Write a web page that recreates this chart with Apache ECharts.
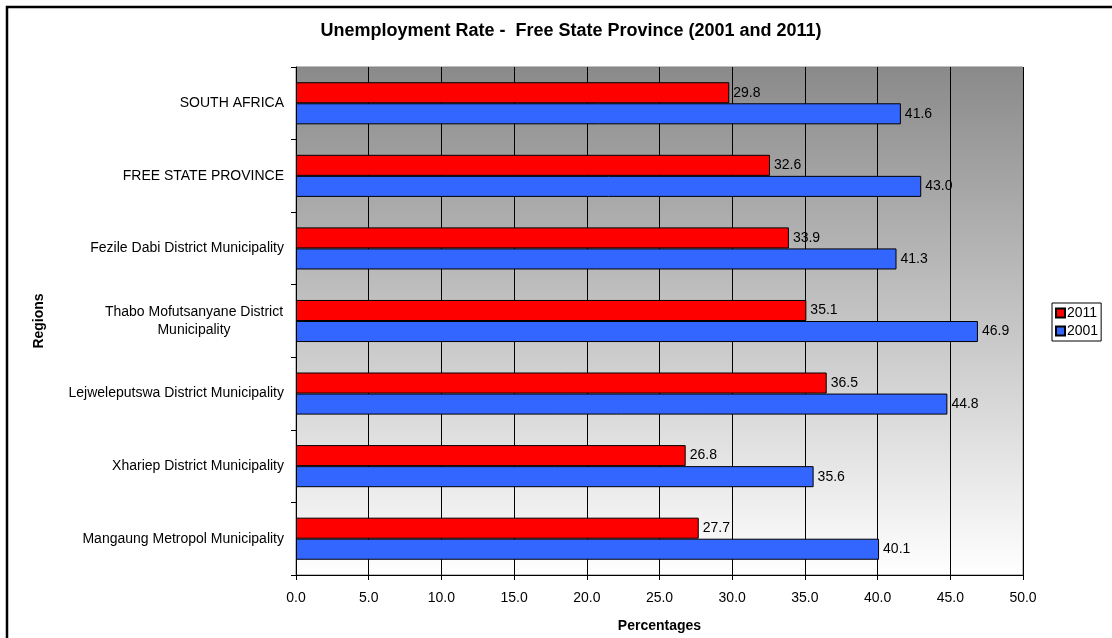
<!DOCTYPE html>
<html>
<head>
<meta charset="utf-8">
<script src="https://cdn.jsdelivr.net/npm/echarts@6/dist/echarts.min.js"></script>
<style>html,body{margin:0;padding:0;background:#fff;}#c{width:1112px;height:638px;}</style>
</head>
<body>
<div id="c"></div>
<script>
var categories = [
  'SOUTH AFRICA',
  'FREE STATE PROVINCE',
  'Fezile Dabi District Municipality',
  'Thabo Mofutsanyane District Municipality',
  'Lejweleputswa District Municipality',
  'Xhariep District Municipality',
  'Mangaung Metropol Municipality'
];
var values2011 = [29.8, 32.6, 33.9, 35.1, 36.5, 26.8, 27.7];
var values2001 = [41.6, 43.0, 41.3, 46.9, 44.8, 35.6, 40.1];
var seriesNames = ['2011', '2001'];
var xTicks = {min: 0, max: 50, interval: 5};

var FONT = '"Liberation Sans", Arial, sans-serif';
var chart = echarts.init(document.getElementById('c'));
var labelStyle = {
  show: true, position: 'right', distance: 4, color: '#000',
  fontSize: 14, fontFamily: FONT,
  formatter: function (p) { return p.value.toFixed(1); }
};
chart.setOption({
  animation: false,
  backgroundColor: '#fff',
  textStyle: {fontFamily: FONT},
  title: {
    text: 'Unemployment Rate -  Free State Province (2001 and 2011)',
    left: 566, top: 17, textAlign: 'center',
    textStyle: {fontSize: 18, fontWeight: 'bold', color: '#000', fontFamily: FONT}
  },
  graphic: [{
    type: 'rect', z: -10, silent: true,
    shape: {x: 7, y: 7, width: 1200, height: 700},
    style: {fill: null, stroke: '#000', lineWidth: 2.5}
  }],
  legend: {
    orient: 'vertical', left: 1052, top: 303,
    data: seriesNames,
    icon: 'rect', itemWidth: 9, itemHeight: 9, itemGap: 4,
    borderColor: '#000', borderWidth: 1, padding: [3, 3, 3, 3],
    textStyle: {fontSize: 14, color: '#000', fontFamily: FONT, padding: [0, 0, 0, -3]}
  },
  grid: {
    left: 296, right: 89, top: 67, bottom: 51,
    show: true, borderColor: '#808080', borderWidth: 1,
    backgroundColor: {type: 'linear', x: 0, y: 0, x2: 0, y2: 1,
      colorStops: [{offset: 0, color: '#8a8a8a'}, {offset: 1, color: '#ffffff'}]}
  },
  xAxis: {
    type: 'value', min: xTicks.min, max: xTicks.max, interval: xTicks.interval,
    name: 'Percentages', nameLocation: 'middle', nameGap: 44,
    nameTextStyle: {fontSize: 14, fontWeight: 'bold', color: '#000', fontFamily: FONT},
    axisLine: {show: true, lineStyle: {color: '#000', width: 1}},
    axisTick: {show: true, length: 5, lineStyle: {color: '#000'}},
    axisLabel: {color: '#000', fontSize: 14, margin: 16, fontFamily: FONT,
      formatter: function (v) { return v.toFixed(1); }},
    splitLine: {show: true, lineStyle: {color: '#000', width: 1}}
  },
  yAxis: {
    type: 'category', inverse: true, data: categories,
    name: 'Regions', nameLocation: 'middle', nameGap: 250, nameRotate: 90,
    nameTextStyle: {fontSize: 14, fontWeight: 'bold', color: '#000', fontFamily: FONT},
    axisLine: {show: true, lineStyle: {color: '#000', width: 1}},
    axisTick: {show: true, length: 5, lineStyle: {color: '#000'}},
    axisLabel: {
      color: '#000', fontSize: 14, margin: 12, fontFamily: FONT, interval: 0,
      formatter: function (v) {
        if (v === 'Thabo Mofutsanyane District Municipality') {
          return '{c|Thabo Mofutsanyane District}\n{c|Municipality}';
        }
        return v;
      },
      rich: {c: {width: 180, align: 'center', fontSize: 14, color: '#000', fontFamily: FONT, lineHeight: 18}}
    },
    splitLine: {show: false}
  },
  series: [{
    name: seriesNames[0], type: 'bar', data: values2011,
    barGap: '0%', barCategoryGap: '42%',
    itemStyle: {color: '#ff0000', borderColor: '#000', borderWidth: 1},
    label: labelStyle
  }, {
    name: seriesNames[1], type: 'bar', data: values2001,
    barGap: '0%', barCategoryGap: '42%',
    itemStyle: {color: '#3366ff', borderColor: '#000', borderWidth: 1},
    label: labelStyle
  }]
});
</script>
</body>
</html>
